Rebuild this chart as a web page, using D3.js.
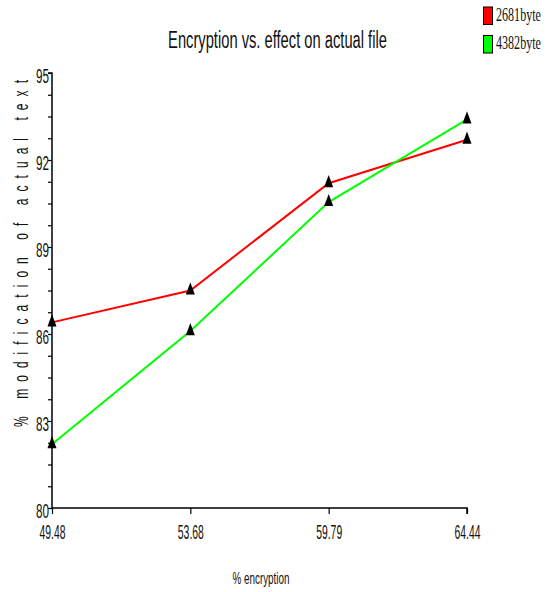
<!DOCTYPE html>
<html>
<head>
<meta charset="utf-8">
<script src="https://cdn.jsdelivr.net/npm/d3@7"></script>
<style>
  html, body { margin: 0; padding: 0; background: #fff; }
  svg { display: block; }
</style>
</head>
<body>
<svg id="chart" width="550" height="592"></svg>
<script>
// Encryption percentage categories on the x axis
const categories = ["49.48", "53.68", "59.79", "64.44"];
// % modification of actual text, per file size
const series2681 = [86.4, 87.5, 91.2, 92.7];
const series4382 = [82.2, 86.1, 90.55, 93.4];
const seriesNames = ["2681byte", "4382byte"];
const seriesColors = ["#ff0000", "#00ff00"];
const yTickLabels = [80, 83, 86, 89, 92, 95];

const SANS = "'Liberation Sans', Arial, sans-serif";
const SERIF = "'Liberation Serif', 'Times New Roman', serif";

const svg = d3.select("#chart");
const margin = { left: 52, right: 83, top: 73, bottom: 84 };
const W = 550, H = 592;

const x = d3.scalePoint().domain(categories).range([margin.left, W - margin.right]);
const y = d3.scaleLinear().domain([80, 95]).range([H - margin.bottom, margin.top]);

// Condensed text: squeeze glyphs horizontally to a fixed width, keeping their height
function narrow(sel, width) {
  sel.each(function() {
    const t = d3.select(this);
    const natural = this.getComputedTextLength();
    if (!natural) return;
    const s = width / natural;
    const x0 = +(t.attr("x") || 0);
    t.attr("x", x0 / s).attr("transform", `scale(${s},1)`);
  });
}

// Title
svg.append("text")
  .attr("x", 277.5).attr("y", 48)
  .attr("text-anchor", "middle")
  .attr("font-family", SANS)
  .attr("font-size", 24)
  .attr("fill", "#111")
  .text("Encryption vs. effect on actual file")
  .call(narrow, 219);

// Y axis: labelled every 3, minor ticks every 0.75
const minorTicks = d3.range(80, 95.01, 0.75);
const isLabelled = d => Math.abs(d - Math.round(d)) < 1e-6 && yTickLabels.includes(Math.round(d));
const yAxis = d3.axisLeft(y).tickValues(minorTicks).tickSize(4)
  .tickFormat(d => isLabelled(d) ? Math.round(d) : "");
const gy = svg.append("g").attr("transform", `translate(${margin.left},0)`).call(yAxis);
gy.select(".domain").attr("stroke", "#000").attr("stroke-width", 1.5).attr("d", `M-4,${y(95)}H0V${y(80)}`);
gy.selectAll(".tick line").attr("stroke", "#000").attr("stroke-width", 1.2);
gy.selectAll(".tick text")
  .attr("font-family", SANS)
  .attr("font-size", 20)
  .attr("fill", "#111")
  .attr("x", -3)
  .attr("dy", "0.46em")
  .filter(d => isLabelled(d))
  .call(narrow, 13);

// X axis
const xAxis = d3.axisBottom(x).tickSize(6);
const gx = svg.append("g").attr("transform", `translate(0,${y(80)})`).call(xAxis);
gx.select(".domain").attr("stroke", "#000").attr("stroke-width", 1.5).attr("d", `M${x(categories[0])},0H${x(categories[categories.length - 1])}V6`);
gx.selectAll(".tick line").attr("stroke", "#000").attr("stroke-width", 1.2);
gx.selectAll(".tick text")
  .attr("font-family", SANS)
  .attr("font-size", 20)
  .attr("fill", "#111")
  .attr("y", 31)
  .attr("dy", 0)
  .call(narrow, 26);

// Axis titles
svg.append("text")
  .attr("x", 261).attr("y", 584)
  .attr("text-anchor", "middle")
  .attr("font-family", SANS)
  .attr("font-size", 17)
  .attr("fill", "#111")
  .text("% encryption")
  .call(narrow, 57);

// Rotated y title: narrow glyphs, widely spaced along the axis
const yTitleSquash = 0.6;
svg.append("text")
  .attr("transform", `translate(28,253.5) rotate(-90) scale(${yTitleSquash},1)`)
  .attr("text-anchor", "middle")
  .attr("font-family", SANS)
  .attr("font-size", 20)
  .attr("fill", "#111")
  .attr("textLength", 347 / yTitleSquash)
  .attr("lengthAdjust", "spacing")
  .text("% modification of actual text");

// Lines and markers
const allSeries = [series2681, series4382];
const line = d3.line().x((d, i) => x(categories[i])).y(d => y(d));
allSeries.forEach((vals, s) => {
  svg.append("path")
    .datum(vals)
    .attr("fill", "none")
    .attr("stroke", seriesColors[s])
    .attr("stroke-width", 2)
    .attr("d", line);
});
const tri = d3.symbol().type(d3.symbolTriangle).size(55);
allSeries.forEach(vals => {
  svg.append("g").selectAll("path")
    .data(vals)
    .join("path")
    .attr("d", tri)
    .attr("transform", (d, i) => `translate(${x(categories[i])},${y(d)}) scale(0.8,1.25)`)
    .attr("fill", "#000");
});

// Legend
const legend = svg.append("g");
seriesNames.forEach((name, i) => {
  const top = 7 + i * 28.5;
  legend.append("rect")
    .attr("x", 483.5).attr("y", top)
    .attr("width", 9).attr("height", 17.5)
    .attr("fill", seriesColors[i])
    .attr("stroke", "#000").attr("stroke-width", 1);
  legend.append("text")
    .attr("x", 496).attr("y", top + 14)
    .attr("font-family", SERIF)
    .attr("font-size", 19)
    .attr("fill", "#111")
    .text(name)
    .call(narrow, 45);
});
</script>
</body>
</html>
